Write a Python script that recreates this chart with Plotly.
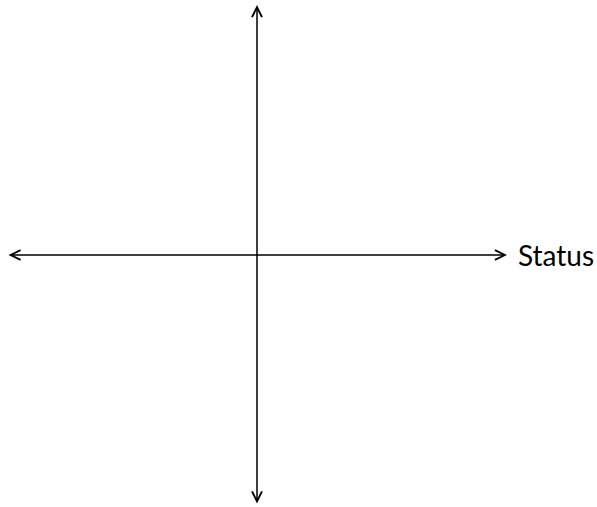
import plotly.graph_objects as go

# Axis extents (data units) and label
x_limits = [-1.0, 1.0]
y_limits = [-1.0, 1.0]
axis_labels = ["Status"]

W, H = 597, 507
cx, cy, half = 257, 255, 250  # pixel mapping helpers for ranges

x_range = [(0 - cx) / half, (W - cx) / half]
y_range = [(cy - H) / half, (cy - 0) / half]

fig = go.Figure()

arrow_style = dict(
    showarrow=True, arrowhead=5, startarrowhead=5, arrowside="end+start",
    arrowsize=1.3, startarrowsize=1.3, arrowwidth=1.5, arrowcolor="black",
    text="", standoff=0, startstandoff=0,
)

# horizontal axis
fig.add_annotation(x=x_limits[1], y=0, ax=x_limits[0], ay=0,
                   xref="x", yref="y", axref="x", ayref="y", **arrow_style)
# vertical axis
fig.add_annotation(x=0, y=y_limits[1], ax=0, ay=y_limits[0],
                   xref="x", yref="y", axref="x", ayref="y", **arrow_style)

# label
fig.add_annotation(x=x_limits[1], y=0, xref="x", yref="y", text=axis_labels[0],
                   showarrow=False, xanchor="left", yanchor="middle", xshift=9,
                   font=dict(family="Lato", size=28, color="black"))

fig.update_xaxes(range=x_range, visible=False, showgrid=False, zeroline=False)
fig.update_yaxes(range=y_range, visible=False, showgrid=False, zeroline=False)
fig.update_layout(width=W, height=H, margin=dict(l=0, r=0, t=0, b=0),
                  plot_bgcolor="white", paper_bgcolor="white", showlegend=False)

fig.write_html("out.html", config={"displayModeBar": False},
               post_script="document.body.style.margin='0';document.body.style.overflow='hidden';")
